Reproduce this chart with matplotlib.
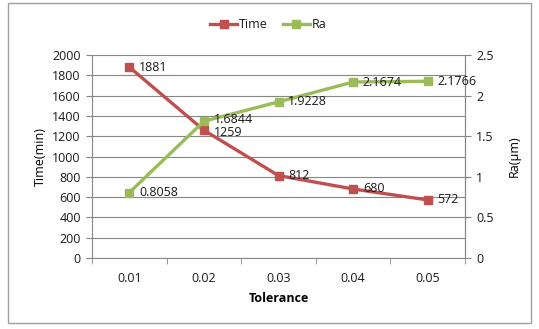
import matplotlib.pyplot as plt
from matplotlib.patches import Rectangle
import numpy as np

tolerance = ['0.01', '0.02', '0.03', '0.04', '0.05']
time_min = [1881, 1259, 812, 680, 572]
ra_um = [0.8058, 1.6844, 1.9228, 2.1674, 2.1766]
time_labels = ['1881', '1259', '812', '680', '572']
ra_labels = ['0.8058', '1.6844', '1.9228', '2.1674', '2.1766']

red = '#C0504D'
green = '#9BBB59'
gray = '#868686'
fs = 9

plt.rcParams['font.family'] = ['Open Sans', 'DejaVu Sans']
plt.rcParams['font.size'] = fs
plt.rcParams['text.color'] = '#1a1a1a'
plt.rcParams['xtick.color'] = '#1a1a1a'
plt.rcParams['ytick.color'] = '#1a1a1a'

fig = plt.figure(figsize=(5.39, 3.29), dpi=100)
fig.patches.append(Rectangle((8/539, 1-323/329), 523/539, 320/329, transform=fig.transFigure,
                             fill=False, edgecolor='#A0A0A0', lw=1))
ax = fig.add_axes([92/539, 1-258/329, 373/539, 203/329])
x = np.arange(len(tolerance))

ax.set_xlim(-0.5, 4.5)
ax.set_ylim(0, 2000)
ax.set_yticks(range(0, 2001, 200))
ax.set_xticks(x)
ax.set_xticklabels(tolerance)
ax.set_xticks(np.arange(-0.5, 4.6, 1), minor=True)
ax.tick_params(axis='x', which='major', length=0, pad=10)
ax.tick_params(axis='x', which='minor', length=4, color=gray)
ax.tick_params(axis='y', length=4, color=gray, pad=4)
ax.grid(axis='y', color=gray, lw=0.8)
ax.set_axisbelow(True)
ax.spines['top'].set_visible(False)
for s in ['left', 'bottom', 'right']:
    ax.spines[s].set_color(gray)

l1, = ax.plot(x, time_min, '-s', color=red, lw=2.4, ms=5.5, label='Time')
for xi, yi, lab in zip(x, time_min, time_labels):
    dy = -2 if lab == '1259' else 0
    ax.annotate(lab, (xi, yi), xytext=(7, dy), textcoords='offset points', va='center', fontsize=fs)

ax2 = ax.twinx()
ax2.set_ylim(0, 2.5)
ax2.set_yticks([0, 0.5, 1, 1.5, 2, 2.5])
ax2.set_yticklabels(['0', '0.5', '1', '1.5', '2', '2.5'])
ax2.tick_params(axis='y', length=4, color=gray, pad=4)
for s in ['top', 'left', 'bottom']:
    ax2.spines[s].set_visible(False)
ax2.spines['right'].set_color(gray)
l2, = ax2.plot(x, ra_um, '-s', color=green, lw=2.4, ms=5.5, label='Ra')
for xi, yi, lab in zip(x, ra_um, ra_labels):
    dy = 1 if lab == '1.6844' else 0
    ax2.annotate(lab, (xi, yi), xytext=(7, dy), textcoords='offset points', va='center', fontsize=fs)

ax.set_xlabel('Tolerance', fontweight='bold', labelpad=5)
ax.set_ylabel('Time(min)', labelpad=4)
ax2.set_ylabel('Ra(μm)', rotation=90, labelpad=10)

fig.legend([l1, l2], ['Time', 'Ra'], loc='center', bbox_to_anchor=(268/539, 1-25/329), ncol=2,
           frameon=False, handlelength=2.2, handletextpad=0.1, columnspacing=1.2, fontsize=fs)

plt.savefig('out.png', dpi=100)
